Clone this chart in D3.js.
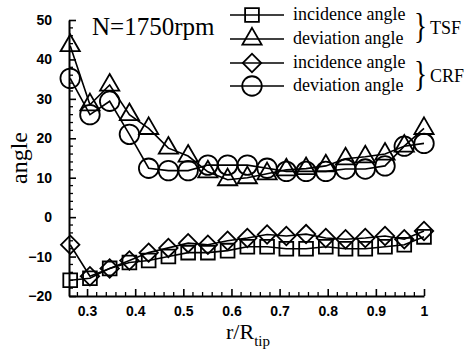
<!DOCTYPE html>
<html>
<head>
<meta charset="utf-8">
<script src="https://cdn.jsdelivr.net/npm/d3@7"></script>
<style>
body{margin:0;background:#fff;}
svg{display:block;}
</style>
</head>
<body>
<svg id="chart"></svg>
<script>
var width=468,height=354;
var margin={left:69,right:44,top:20,bottom:58};

// r/R_tip positions of the measurement points
var radius=[0.265,0.306,0.347,0.388,0.428,0.469,0.510,0.551,0.592,0.633,0.674,0.714,0.755,0.796,0.837,0.878,0.919,0.959,1.0];
var tsfIncidence=[-16,-15.5,-13,-11.5,-11,-10,-9,-9,-8.5,-7.5,-7.5,-8,-8,-7.5,-8,-8,-7.5,-7,-5];
var tsfDeviation=[43.5,28.5,33.5,26,22.5,17.5,15.5,11.5,9.5,10,11,12,12.3,13,14.8,15.3,16,18,22.5];
var crfIncidence=[-7,-15,-13,-11,-9,-7.8,-6.6,-7,-6,-5.3,-4.4,-4.8,-4.3,-5.3,-5.6,-5.3,-4.8,-5.6,-3.5];
var crfDeviation=[35.2,26,29.4,21,12.4,11.8,11.8,13.2,13.2,13.2,12.4,11.6,11.6,11.6,12.2,12.2,13,18,18.7];
var xTicks=[0.3,0.4,0.5,0.6,0.7,0.8,0.9,1];
var yTicks=[-20,-10,0,10,20,30,40,50];

var series=[
  {name:"incidence angle",group:"TSF",values:tsfIncidence,symbol:d3.symbolSquare,size:190,rot:0},
  {name:"deviation angle",group:"TSF",values:tsfDeviation,symbol:d3.symbolTriangle,size:160,rot:0},
  {name:"incidence angle",group:"CRF",values:crfIncidence,symbol:d3.symbolSquare,size:170,rot:45},
  {name:"deviation angle",group:"CRF",values:crfDeviation,symbol:d3.symbolCircle,size:300,rot:0}
];

var svg=d3.select("#chart").attr("width",width).attr("height",height);

var xScale=d3.scaleLinear().domain([0.2625,1.0]).range([margin.left,width-margin.right]);
var yScale=d3.scaleLinear().domain([-20,50]).range([height-margin.bottom,margin.top]);

var tickFont="bold 14px 'Liberation Sans', Arial, sans-serif";
var serif="'Liberation Serif','Times New Roman',serif";

// minor ticks
var xMinor=d3.range(0.28,1.001,0.02).filter(function(v){return Math.abs(v*10-Math.round(v*10))>1e-6;});
var yMinor=d3.range(-18,50,2).filter(function(v){return v%10!==0;});

var xAxis=d3.axisBottom(xScale).tickValues(xTicks).tickSizeInner(-7).tickSizeOuter(0).tickPadding(10).tickFormat(d3.format("~g"));
var yAxis=d3.axisLeft(yScale).tickValues(yTicks).tickSizeInner(-7).tickSizeOuter(0).tickPadding(17);

var gx=svg.append("g").attr("transform","translate(0,"+yScale(-20)+")").call(xAxis);
var gy=svg.append("g").attr("transform","translate("+margin.left+",0)").call(yAxis);
[gx,gy].forEach(function(g){
  g.select(".domain").attr("stroke","#000").attr("stroke-width",2);
  g.selectAll(".tick line").attr("stroke","#000").attr("stroke-width",1.6);
  g.selectAll(".tick text").style("font",tickFont).attr("fill","#000");
});
gx.selectAll(".minor").data(xMinor).enter().append("line")
  .attr("x1",function(d){return xScale(d);}).attr("x2",function(d){return xScale(d);})
  .attr("y1",0).attr("y2",-4).attr("stroke","#000").attr("stroke-width",1.3);
gy.selectAll(".minor").data(yMinor).enter().append("line")
  .attr("y1",function(d){return yScale(d);}).attr("y2",function(d){return yScale(d);})
  .attr("x1",0).attr("x2",4).attr("stroke","#000").attr("stroke-width",1.3);

// lines and markers
var line=d3.line().x(function(d){return xScale(d[0]);}).y(function(d){return yScale(d[1]);});
series.forEach(function(s){
  var pts=radius.map(function(r,i){return [r,s.values[i]];});
  svg.append("path").attr("d",line(pts)).attr("fill","none").attr("stroke","#000").attr("stroke-width",1.6);
  svg.selectAll(null).data(pts).enter().append("path")
    .attr("d",d3.symbol().type(s.symbol).size(s.size))
    .attr("transform",function(d){return "translate("+xScale(d[0])+","+yScale(d[1])+") rotate("+s.rot+")";})
    .attr("fill","none").attr("stroke","#000").attr("stroke-width",1.8);
});

// axis titles
svg.append("text").attr("transform","translate(27,"+(yScale(15))+") rotate(-90)")
  .attr("text-anchor","middle").style("font","24px "+serif).text("angle");
var xt=svg.append("text").attr("x",248).attr("y",339).attr("text-anchor","middle").style("font","22px "+serif);
xt.append("tspan").text("r/R");
xt.append("tspan").attr("dy",7).style("font-size","15px").text("tip");

svg.append("text").attr("x",92).attr("y",35).style("font","25px "+serif).text("N=1750rpm");

// legend
var legend=svg.append("g");
var rowY=[15,39,63,86];
series.forEach(function(s,i){
  var y=rowY[i];
  legend.append("line").attr("x1",230).attr("x2",284).attr("y1",y).attr("y2",y).attr("stroke","#000").attr("stroke-width",1.6);
  legend.append("path").attr("d",d3.symbol().type(s.symbol).size(s.size))
    .attr("transform","translate(252,"+y+") rotate("+s.rot+")").attr("fill","none").attr("stroke","#000").attr("stroke-width",1.8);
  legend.append("text").attr("x",293).attr("y",y+5).style("font","18px "+serif).text(s.name);
});
["TSF","CRF"].forEach(function(g,i){
  var yc=(rowY[i*2]+rowY[i*2+1])/2;
  legend.append("text").attr("transform","translate(414,"+(yc+11)+") scale(0.75,1)").style("font","36px "+serif).text("}");
  legend.append("text").attr("x",430).attr("y",yc+7).style("font","18px "+serif).text(g);
});
</script>
</body>
</html>
